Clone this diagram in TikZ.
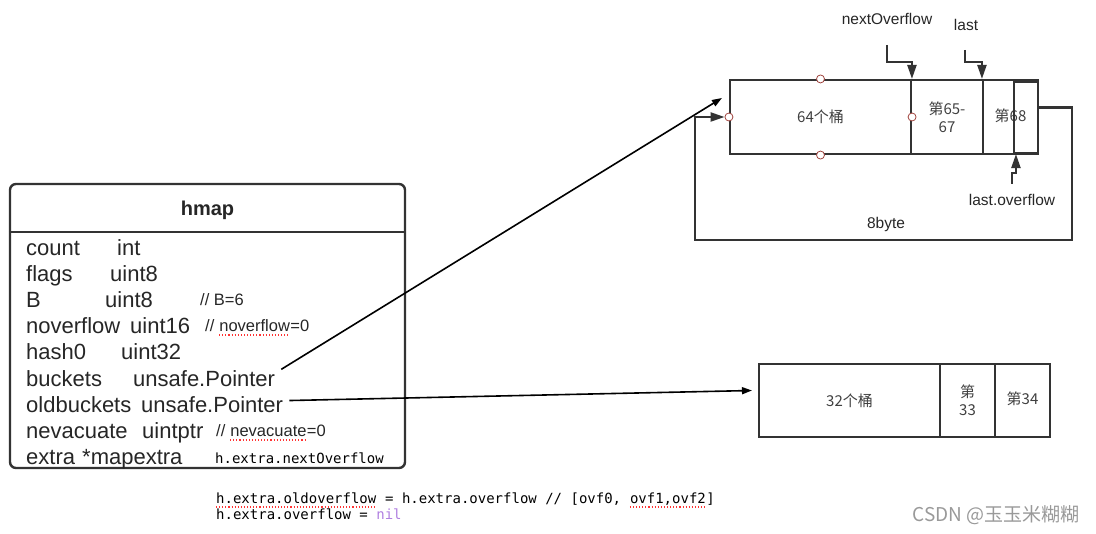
\documentclass[tikz,border=0pt]{standalone}
\usepackage{fontspec}
\setmainfont{Liberation Sans}
\setmonofont{DejaVu Sans Mono}
\newfontfamily\cjk{Noto Sans CJK SC}
\usetikzlibrary{positioning,arrows.meta}
\definecolor{lineg}{HTML}{333333}
\definecolor{portred}{HTML}{A0453F}
\definecolor{nilpurple}{HTML}{B07FE0}
\newcommand{\gap}{\hspace*{0.28em}}
\newcommand{\tgap}{\hphantom{x}}

\begin{document}
\begin{tikzpicture}[
    x=1pt, y=-1pt,
    hbox/.style={
        rectangle,
        rounded corners=6pt,
        draw=lineg,
        line width=2.4pt,
        minimum width=395pt,
        minimum height=284pt,
        inner sep=0pt
    },
    cell/.style={
        rectangle,
        draw=lineg,
        line width=2.1pt,
        inner sep=0pt,
        align=center,
        minimum height=74pt,
        font=\cjk\fontsize{15}{18}\selectfont,
        text=black!75
    },
    port/.style={
        circle,
        draw=portred,
        fill=white,
        line width=0.8pt,
        inner sep=0pt,
        minimum size=8pt
    },
    field/.style={
        anchor=base west,
        inner sep=0pt,
        font=\fontsize{22}{24}\selectfont,
        text=black!85
    },
    cmt/.style={
        anchor=base west,
        inner sep=0pt,
        font=\fontsize{16.5}{20}\selectfont,
        text=black!85
    },
    code/.style={
        anchor=base west,
        inner sep=0pt,
        font=\ttfamily\fontsize{14}{16}\selectfont,
        text=black
    },
    lbl/.style={
        font=\fontsize{15.5}{18}\selectfont,
        text=black!85
    },
    squig/.style={
        draw=red!80,
        dotted,
        line width=1.1pt
    },
    arrow/.style={
        -{Triangle[length=10pt,width=7pt]},
        line width=1.6pt,
        draw=black
    },
    darrow/.style={
        -{Triangle[length=14pt,width=9pt]},
        line width=2.2pt,
        draw=lineg
    }
]
\useasboundingbox (0,0) rectangle (1096,534);

% hmap struct
\node[hbox] (hmap) at (207.5,326) {};
\node[font=\bfseries\fontsize{20}{24}\selectfont, text=black!85] (title) at (207.5,210) {hmap};
\draw[lineg, line width=2.2pt] (hmap.west |- 0,232) -- (hmap.east |- 0,232);

\foreach \fname/\ftype/\tx [count=\i] in {
    count/int/117, flags/uint8/110, B/uint8/105,
    noverflow/uint16/130, hash0/uint32/121, buckets/unsafe.Pointer/133,
    oldbuckets/unsafe.Pointer/141, nevacuate/uintptr/142, extra/*mapextra/82} {
    \node[field] (n-\fname) at (26,{229+26.2*\i}) {\fname};
    \node[field] (t-\fname) at (\tx,{229+26.2*\i}) {\ftype};
}

% comments in the struct
\node[cmt] (cB) at (200,306) {// B=6};
\node[cmt] (cno1) at (205,332) {//\gap};
\node[cmt] (cno2) at (cno1.base east) {noverflow};
\node[cmt] (cno3) at (cno2.base east) {=0};
\node[cmt] (cne1) at (216,437) {//\gap};
\node[cmt] (cne2) at (cne1.base east) {nevacuate};
\node[cmt] (cne3) at (cne2.base east) {=0};
\node[code] (nextov) at (215,464) {h.extra.nextOverflow};
\draw[squig] ([yshift=-3pt]cno2.base west) -- ([yshift=-3pt]cno2.base east);
\draw[squig] ([yshift=-3pt]cne2.base west) -- ([yshift=-3pt]cne2.base east);

% code below
\node[code] (oldov) at (216,504) {h.extra.oldoverflow};
\node[code] (line1) at (oldov.base east) {\tgap= h.extra.overflow // [ovf0,\tgap};
\node[code] (ovf) at (line1.base east) {ovf1,ovf2};
\node[code] (close) at (ovf.base east) {]};
\node[code] (line2) at (216,520) {h.extra.overflow = \textcolor{nilpurple}{nil}};
\draw[squig] ([yshift=-3pt]oldov.base west) -- ([yshift=-3pt]oldov.base east);
\draw[squig] ([yshift=-3pt]ovf.base west) -- ([yshift=-3pt]ovf.base east);

% Top Right: 64 buckets + overflow
\node[cell, minimum width=181pt] (cell64) at (820.5,117) {64个桶};
\node[cell, minimum width=72pt] (cell65) at (947,117) {第65-\\67};
\node[cell, minimum width=55pt] (cell68) at (1010.5,117) {\raisebox{3pt}{第68}};
\node[cell, minimum width=24pt, minimum height=71pt, fill=none] (inner) at (1026,117.5) {};

\node[port] (p-north) at (cell64.north) {};
\node[port] (p-south) at (cell64.south) {};
\node[port] (p-west) at (cell64.west) {};
\node[port] (p-east) at (cell64.east) {};

\node[lbl] (nolbl) at (887,19) {nextOverflow};
\node[lbl] (lastlbl) at (966,25) {last};
\node[lbl] (lolbl) at (1012,200) {last.overflow};
\node[lbl] (bytelbl) at (886,224) {8byte};

\coordinate (nofrom) at (887,45);
\coordinate (lastfrom) at (965,50);
\coordinate (lofrom) at (1012,184);
\coordinate (loopr) at (1072,240);
\coordinate (loopl) at (695,240);

\draw[darrow] (nofrom) |- ([xshift=2pt]cell65.north west |- 0,62) -- ([xshift=2pt]cell65.north west);
\draw[darrow] (lastfrom) |- (cell68.north west |- 0,62) -- (cell68.north west);
\draw[darrow] (lofrom) -- ++(0,-11) -| ([xshift=3pt]inner.south west);
\draw[darrow] ([yshift=10pt]inner.east) -| (loopr) -- (loopl) |- (p-west);

% Bottom Right: 32 buckets
\node[cell, minimum width=181pt, minimum height=73pt] (b32) at (849.5,400.5) {32个桶};
\node[cell, minimum width=55pt, minimum height=73pt] (b33) at (967.5,400.5) {第\\33};
\node[cell, minimum width=55pt, minimum height=73pt] (b34) at (1022.5,400.5) {\raisebox{4pt}{第34}};

% Connections
\draw[arrow] ([xshift=6pt,yshift=9pt]t-buckets.east) -- ([xshift=-7pt,yshift=19pt]cell64.west);
\draw[arrow] ([xshift=6pt,yshift=4pt]t-oldbuckets.east) -- ([xshift=-6pt,yshift=10pt]b32.west);

% watermark
\node[font=\cjk\fontsize{19}{22}\selectfont, text=black!40] (mark) at (996,515) {CSDN @玉玉米糊糊};

\end{tikzpicture}
\end{document}
